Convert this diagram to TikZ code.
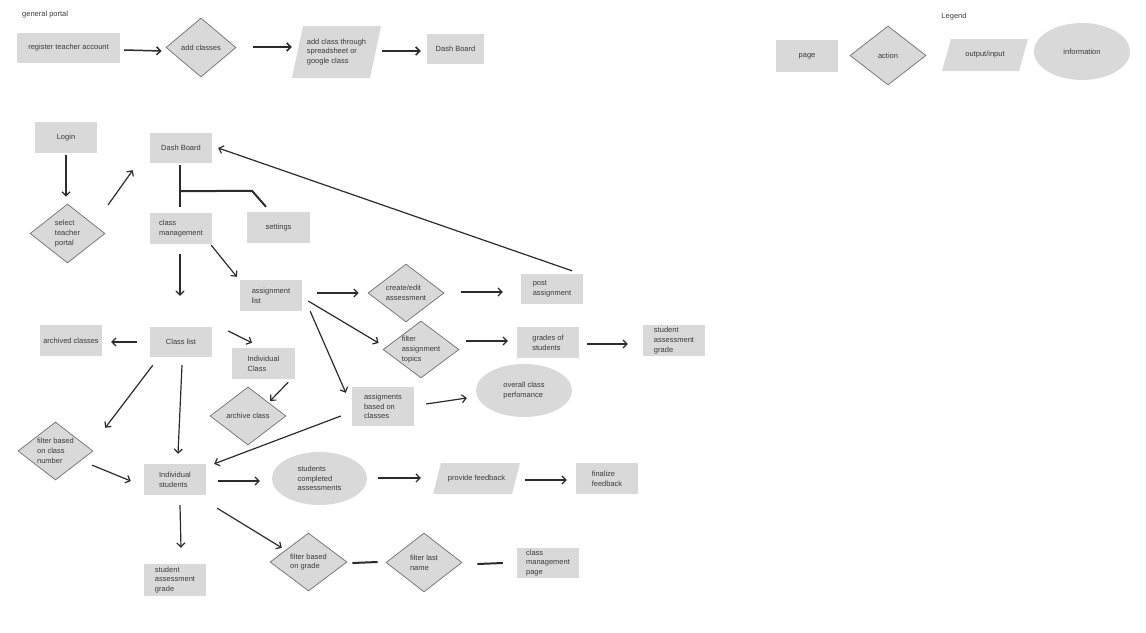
\documentclass[tikz,border=0pt]{standalone}
\usepackage{fontspec}
\setmainfont{Liberation Sans}
\usetikzlibrary{shapes.geometric,arrows.meta}
\definecolor{boxgray}{HTML}{D9D9D9}
\definecolor{txtgray}{HTML}{3A3A3A}
\definecolor{edgegray}{HTML}{7A7A7A}
\definecolor{linegray}{HTML}{2B2B2B}
\begin{document}
\begin{tikzpicture}[x=1pt,y=-1pt,
 every node/.style={font=\fontsize{7.5}{9.8}\selectfont, text=txtgray, inner sep=0pt, align=left},
 page/.style={rectangle, fill=boxgray, minimum width=62pt, minimum height=31pt},
 act/.style={diamond, fill=boxgray, draw=edgegray, line width=0.8pt, aspect=1.3, minimum width=76pt, minimum height=58pt},
 info/.style={ellipse, fill=boxgray, minimum width=96pt, minimum height=54pt},
 io/.style={rectangle, minimum width=87pt, minimum height=31pt,
   path picture={\fill[boxgray] ([xshift=#1]path picture bounding box.north west) -- (path picture bounding box.north east) -- ([xshift=-#1]path picture bounding box.south east) -- (path picture bounding box.south west) -- cycle;}},
 io/.default=9pt,
 conn/.style={draw=linegray, line width=1.2pt, -{Straight Barb[length=4pt,width=8pt]}},
 topconn/.style={conn, line width=1.5pt},
 bar/.style={draw=linegray, line width=2pt},
]
\useasboundingbox (0,0) rectangle (1146,632);

% general portal
\node[anchor=west] (gp) at (22,15) {general portal};
\node[page, minimum width=103pt, minimum height=30pt] (reg) at (68.5,48) {register teacher account};
\node[act, minimum width=70pt, minimum height=59pt] (addc) at (201,47.5) {add classes};
\node[io=11pt, minimum width=89pt, minimum height=52pt] (acs) at (336.5,52) {add class through\\spreadsheet or\\google class};
\node[page, minimum width=57pt, minimum height=30pt] (db0) at (455.5,49) {Dash Board};

\draw[topconn] ([shift={(4,2)}]reg.east) -- ([shift={(-4,3.5)}]addc.west);
\draw[topconn] ([shift={(17,-0.5)}]addc.east) -- ([shift={(0,-5)}]acs.west);
\draw[topconn] ([shift={(1,-1)}]acs.east) -- ([shift={(-6,2)}]db0.west);

% legend
\node (lg) at (954,17) {Legend};
\node[page, minimum height=32pt] (lpage) at (807,56) {page};
\node[act, minimum height=59pt] (lact) at (888,55.5) {action};
\node[io, minimum width=86pt, minimum height=32pt] (lio) at (985,55) {output/input};
\node[info, minimum height=57pt] (linfo) at (1082,51.5) {information};

% main flow
\node[page] (login) at (66,137.5) {Login};
\node[act, minimum width=75pt, minimum height=59pt] (stp) at (67.5,233.5) {select\\teacher\\portal};
\node[page, minimum height=30pt] (db) at (181,148) {Dash Board};
\node[page] (cm) at (181,228.5) {class\\management};
\node[page, minimum width=63pt] (set) at (278.5,227.5) {settings};
\node[page] (al) at (271,295.5) {assignment\\list};
\node[act] (ce) at (406,293) {create/edit\\assessment};
\node[page, minimum height=30pt] (pa) at (552,289) {post\\assignment};
\node[act, minimum height=57pt] (fat) at (421,349.5) {filter\\assignment\\topics};
\node[page] (gs) at (548,342.5) {grades of\\students};
\node[page] (sag1) at (674,340.5) {student\\assessment\\grade};
\node[page, minimum height=39pt] (abc) at (383,406.5) {assigments\\based on\\classes};
\node[info, minimum height=53pt] (ocp) at (524,390.5) {overall class\\perfomance};
\node[page, minimum height=30pt] (cl) at (181,342) {Class list};
\node[page] (arc) at (71,340.5) {archived classes};
\node[page, minimum width=63pt] (ic) at (263.5,363.5) {Individual\\Class};
\node[act] (ac) at (248,416) {archive class};
\node[act, minimum width=75pt] (fcn) at (55.5,451) {filter based\\on class\\number};
\node[page] (is) at (175,479.5) {Individual\\students};
\node[page, minimum height=32pt] (sag2) at (175,580) {student\\assessment\\grade};
\node[info, minimum width=95pt, minimum height=53pt] (sca) at (319.5,478.5) {students\\completed\\assessments};
\node[io=8pt, minimum width=87pt, minimum height=31pt] (pf) at (476.5,478.5) {provide feedback};
\node[page] (ff) at (607,478.5) {finalize\\feedback};
\node[act, minimum width=77pt] (fbg) at (308.5,562) {filter based\\on grade};
\node[act, minimum height=59pt] (fln) at (424,562.5) {filter last\\name};
\node[page, minimum height=30pt] (cmp) at (548,563) {class\\management\\page};

% connectors
\draw[conn] ([shift={(0,2)}]login.south) -- ([shift={(-1.5,-7)}]stp.north);
\draw[conn] ([shift={(40.5,-28.5)}]stp.center) -- ([shift={(-17,7)}]db.south west);
\draw[bar] ([shift={(-1,2)}]db.south) -- ([shift={(-1,-6)}]cm.north);
\draw[bar] ([shift={(-1,28)}]db.south) -- ([shift={(-26.5,-21)}]set.north) -- ([shift={(-12.5,-5)}]set.north);
\draw[conn] ([shift={(-1,10)}]cm.south) -- ([shift={(-1,-31)}]cl.north);
\draw[conn] ([shift={(-1,1)}]cm.south east) -- ([shift={(-3,-3)}]al.north west);
\draw[conn] ([shift={(15,-2.5)}]al.east) -- ([shift={(-9,0)}]ce.west);
\draw[conn] ([shift={(17,-1)}]ce.east) -- ([shift={(-18,3)}]pa.west);
\draw[conn] ([shift={(20,-3)}]pa.north) -- ([shift={(6,0)}]db.east);
\draw[conn] ([shift={(6,5.5)}]al.east) -- ([shift={(-4,-6.5)}]fat.west);
\draw[conn] ([shift={(7,-8.5)}]fat.east) -- ([shift={(-9,-1.5)}]gs.west);
\draw[conn] ([shift={(8,1.5)}]gs.east) -- ([shift={(-15,3.5)}]sag1.west);
\draw[conn] ([shift={(8,0)}]al.south east) -- ([shift={(-6,6)}]abc.north west);
\draw[conn] ([shift={(12,-2.5)}]abc.east) -- ([shift={(-9,7.5)}]ocp.west);
\draw[conn] ([shift={(-11,9.5)}]abc.west) -- ([shift={(8,0)}]is.north east);
\draw[conn] ([shift={(-13,0)}]cl.west) -- ([shift={(9,1.5)}]arc.east);
\draw[conn] ([shift={(16,-11)}]cl.east) -- ([shift={(-11.5,-5)}]ic.north);
\draw[conn] ([shift={(-7,3)}]ic.south east) -- ([shift={(3,-0.5)}]ac.north east);
\draw[conn] ([shift={(3,8)}]cl.south west) -- ([shift={(30.75,-8.5)}]fcn.north east);
\draw[conn] ([shift={(1,8)}]cl.south) -- ([shift={(3,-10)}]is.north);
\draw[conn] ([shift={(17.75,-0.5)}]fcn.south east) -- ([shift={(-13,1.5)}]is.west);
\draw[conn] ([shift={(12,1.5)}]is.east) -- ([shift={(-12,2.5)}]sca.west);
\draw[conn] ([shift={(5,10)}]is.south) -- ([shift={(6,-16)}]sag2.north);
\draw[conn] ([shift={(11,13)}]is.south east) -- ([shift={(-7.25,0.5)}]fbg.north west);
\draw[conn] ([shift={(11,-0.5)}]sca.east) -- ([shift={(-12,-0.5)}]pf.west);
\draw[conn] ([shift={(5,1.5)}]pf.east) -- ([shift={(-9,1.5)}]ff.west);
\draw[bar] ([shift={(5,1)}]fbg.east) -- ([shift={(-8,-0.5)}]fln.west);
\draw[bar] ([shift={(15,1.5)}]fln.east) -- ([shift={(-14,0)}]cmp.west);
\end{tikzpicture}
\end{document}
